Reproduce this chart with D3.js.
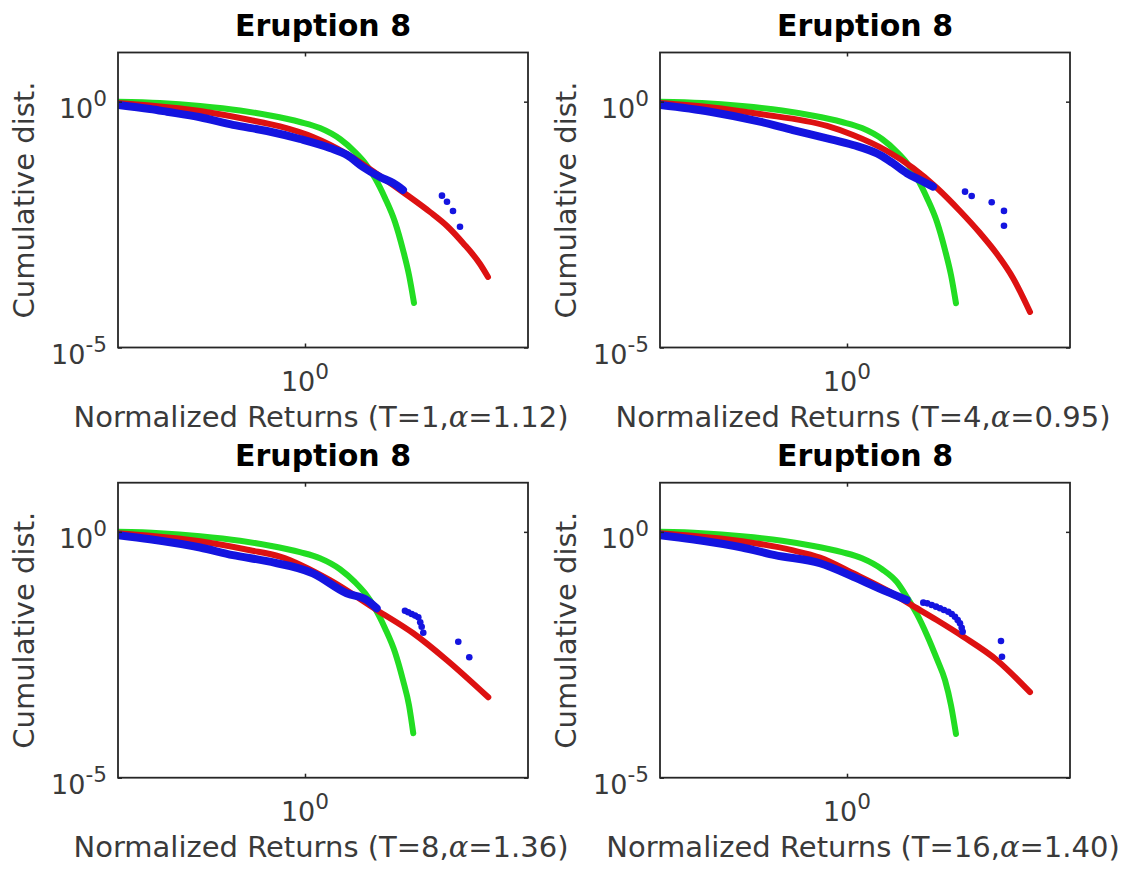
<!DOCTYPE html>
<html>
<head>
<meta charset="utf-8">
<script src="https://cdn.jsdelivr.net/npm/d3@7"></script>
<style>
  html, body { margin: 0; padding: 0; background: #fff; }
  svg { display: block; font-family: "DejaVu Sans", sans-serif; }
</style>
</head>
<body>
<svg id="chart" width="1126" height="870"></svg>
<script>
// Axis ranges and ticks (log-log)
const xDomain = [0.1538, 9.325];
const yDomain = [1e-5, 10];
const xTickValues = [1];
const yTickValues = [1e-5, 1];

// Panel annotations
const panelTitles = ["Eruption 8", "Eruption 8", "Eruption 8", "Eruption 8"];
const horizons = [1, 4, 8, 16];
const alphas = ["1.12", "0.95", "1.36", "1.40"];

// T = 1 : Gaussian fit (green), Levy fit (red), empirical CCDF (blue), sparse tail (blue)
const gauss1 = [[0.154,1.0],[0.234,0.94],[0.35,0.816],[0.522,0.661],[0.705,0.523],[0.951,0.386],[1.162,0.291],[1.42,0.174],[1.65,0.0947],[1.823,0.0566],[2.015,0.028],[2.228,0.011],[2.462,0.00357],[2.668,0.000962],[2.833,0.000298],[2.978,0.0000804]];
const levy1 = [[0.154,0.94],[0.212,0.836],[0.35,0.645],[0.577,0.424],[0.779,0.313],[1.083,0.191],[1.523,0.0862],[2.119,0.0308],[2.777,0.01265],[3.496,0.0057],[4.144,0.00296],[4.864,0.001335],[5.768,0.0005],[6.248,0.000272]];
const empirical1 = [[0.154,0.856],[0.212,0.709],[0.251,0.625],[0.35,0.481],[0.486,0.336],[0.684,0.253],[0.951,0.174],[1.284,0.114],[1.523,0.0822],[1.787,0.0469],[2.119,0.0294],[2.414,0.0222],[2.668,0.016]];
const tail1 = [[3.941,0.01225],[4.144,0.00924],[4.401,0.00597],[4.72,0.00286]];

// T = 4
const gauss2 = [[0.154,1.0],[0.234,0.94],[0.35,0.816],[0.522,0.661],[0.705,0.523],[0.951,0.386],[1.162,0.291],[1.42,0.174],[1.65,0.0947],[1.823,0.0566],[2.015,0.028],[2.228,0.011],[2.462,0.00357],[2.668,0.000962],[2.833,0.000298],[2.978,0.0000793]];
const levy2 = [[0.154,0.94],[0.254,0.768],[0.418,0.561],[0.819,0.32],[1.062,0.21],[1.493,0.0992],[1.936,0.0448],[2.462,0.01755],[3.099,0.00598],[3.787,0.00213],[4.489,0.000798],[5.268,0.00026],[6.248,0.0000528]];
const empirical2 = [[0.154,0.856],[0.254,0.625],[0.418,0.392],[0.582,0.265],[0.819,0.18],[1.062,0.1315],[1.392,0.0822],[1.585,0.0558],[1.823,0.0349],[2.077,0.0255],[2.365,0.0187]];
const tail2 = [[3.26,0.0148],[3.485,0.0121],[4.258,0.009],[4.815,0.006],[4.815,0.003]];

// T = 8
const gauss3 = [[0.154,1.0],[0.234,0.94],[0.35,0.816],[0.522,0.661],[0.705,0.523],[0.951,0.386],[1.162,0.291],[1.42,0.174],[1.65,0.0947],[1.823,0.0566],[2.015,0.028],[2.228,0.011],[2.462,0.00357],[2.668,0.000962],[2.833,0.000298],[2.957,0.00008]];
const levy3 = [[0.154,0.94],[0.212,0.836],[0.35,0.645],[0.577,0.424],[0.779,0.313],[1.284,0.104],[2.05,0.0258],[2.957,0.00865],[4.131,0.00248],[6.266,0.000432]];
const empirical3 = [[0.154,0.856],[0.212,0.709],[0.35,0.481],[0.486,0.336],[0.684,0.253],[1.083,0.1436],[1.518,0.0564],[1.855,0.0411],[2.05,0.0279]];
const tail3 = [[2.721,0.0249],[2.81,0.0232],[2.91,0.0214],[3.01,0.0198],[3.109,0.0183],[3.17,0.0145],[3.216,0.01178],[3.268,0.00889],[4.64,0.00583],[5.18,0.00281]];

// T = 16
const gauss4 = [[0.154,1.0],[0.234,0.94],[0.35,0.816],[0.522,0.661],[0.705,0.523],[0.951,0.386],[1.162,0.291],[1.42,0.174],[1.65,0.0947],[1.823,0.0468],[2.015,0.0212],[2.228,0.00791],[2.462,0.00257],[2.668,0.000962],[2.833,0.000298],[2.978,0.0000775]];
const levy4 = [[0.154,0.94],[0.212,0.836],[0.35,0.645],[0.577,0.424],[0.763,0.30],[1.065,0.1436],[1.488,0.0651],[1.879,0.0338],[2.455,0.01614],[3.203,0.00738],[4.476,0.00248],[6.248,0.000549]];
const empirical4 = [[0.154,0.856],[0.212,0.709],[0.35,0.481],[0.486,0.336],[0.763,0.23],[1.065,0.1225],[1.488,0.0607],[1.818,0.0411]];
const tail4 = [[2.147,0.0363],[2.234,0.0352],[2.335,0.0326],[2.438,0.0301],[2.537,0.0279],[2.641,0.0258],[2.757,0.0238],[2.853,0.0214],[2.948,0.0188],[3.029,0.0161],[3.099,0.01383],[3.153,0.01125],[3.184,0.00933],[4.673,0.00604],[4.72,0.00289]];

const panels = [
  { title: panelTitles[0], T: horizons[0], alpha: alphas[0], gauss: gauss1, levy: levy1, empirical: empirical1, tail: tail1 },
  { title: panelTitles[1], T: horizons[1], alpha: alphas[1], gauss: gauss2, levy: levy2, empirical: empirical2, tail: tail2 },
  { title: panelTitles[2], T: horizons[2], alpha: alphas[2], gauss: gauss3, levy: levy3, empirical: empirical3, tail: tail3 },
  { title: panelTitles[3], T: horizons[3], alpha: alphas[3], gauss: gauss4, levy: levy4, empirical: empirical4, tail: tail4 }
];

// Layout of the 2x2 grid
const colLeft = [118, 660];
const rowTop = [52.5, 482.7];
const plotW = 410, plotH = 295;

const colors = { gauss: "#22dd22", levy: "#dd1111", empirical: "#1414e0" };
const axisColor = "#262626";
const textColor = "#3a3a3a";
const tickFont = 27, labelFont = 29, titleFont = 30;

const svg = d3.select("#chart");

panels.forEach((p, i) => {
  const left = colLeft[i % 2], top = rowTop[Math.floor(i / 2)];
  const g = svg.append("g").attr("transform", `translate(${left},${top})`);

  const x = d3.scaleLog().domain(xDomain).range([0, plotW]);
  const y = d3.scaleLog().domain(yDomain).range([plotH, 0]);

  const clipId = "clip" + i;
  g.append("clipPath").attr("id", clipId)
    .append("rect").attr("width", plotW).attr("height", plotH);

  const plot = g.append("g").attr("clip-path", `url(#${clipId})`);
  const line = d3.line().curve(d3.curveMonotoneX).x(d => x(d[0])).y(d => y(d[1]));

  // Fitted curves and empirical distribution, drawn as dense marker bands
  const band = (data, color, width) => plot.append("path").datum(data).attr("d", line)
    .attr("fill", "none").attr("stroke", color)
    .attr("stroke-width", width).attr("stroke-linecap", "round").attr("stroke-linejoin", "round");
  band(p.gauss, colors.gauss, 6);
  band(p.levy, colors.levy, 6);
  band(p.empirical, colors.empirical, 8);
  plot.selectAll("circle.tail").data(p.tail).join("circle")
    .attr("class", "tail")
    .attr("cx", d => x(d[0])).attr("cy", d => y(d[1])).attr("r", 3.3)
    .attr("fill", colors.empirical);

  // Axes: inward ticks on all four sides
  const axes = [
    d3.axisBottom(x).tickValues(xTickValues).tickSize(-4).tickFormat(""),
    d3.axisTop(x).tickValues(xTickValues).tickSize(-4).tickFormat(""),
    d3.axisLeft(y).tickValues(yTickValues).tickSize(-4).tickFormat(""),
    d3.axisRight(y).tickValues(yTickValues).tickSize(-4).tickFormat("")
  ];
  const offsets = [[0, plotH], [0, 0], [0, 0], [plotW, 0]];
  axes.forEach((ax, k) => {
    const a = g.append("g").attr("transform", `translate(${offsets[k][0]},${offsets[k][1]})`).call(ax);
    a.select(".domain").remove();
    a.selectAll(".tick line").attr("stroke", axisColor).attr("stroke-width", 1.5);
  });

  g.append("rect").attr("width", plotW).attr("height", plotH)
    .attr("fill", "none").attr("stroke", axisColor).attr("stroke-width", 1.8);

  // Tick labels with superscript exponents
  const expText = v => String(Math.round(Math.log10(v)));
  xTickValues.forEach(v => {
    const t = g.append("text").attr("x", x(v)).attr("y", plotH + 43)
      .attr("text-anchor", "middle").attr("font-size", tickFont).attr("fill", textColor);
    t.append("tspan").text("10");
    t.append("tspan").attr("dy", -12).attr("font-size", tickFont * 0.8).text(expText(v));
  });
  yTickValues.forEach(v => {
    const t = g.append("text").attr("x", -11).attr("y", y(v) + 16)
      .attr("text-anchor", "end").attr("font-size", tickFont).attr("fill", textColor);
    t.append("tspan").text("10");
    t.append("tspan").attr("dy", -12).attr("font-size", tickFont * 0.8).text(expText(v));
  });

  // Title
  g.append("text").attr("x", plotW / 2).attr("y", -17)
    .attr("text-anchor", "middle").attr("font-size", titleFont).attr("font-weight", "bold")
    .attr("fill", "#000").text(p.title);

  // Axis labels
  g.append("text")
    .attr("transform", `translate(${-94.5},${plotH / 2}) rotate(-90)`)
    .attr("text-anchor", "middle").attr("dominant-baseline", "central")
    .attr("font-size", labelFont).attr("fill", textColor).text("Cumulative dist.");

  const xl = g.append("text").attr("x", plotW / 2 - 2).attr("y", plotH + 79)
    .attr("text-anchor", "middle").attr("font-size", labelFont).attr("fill", textColor);
  xl.append("tspan").text(`Normalized Returns (T=${p.T},`);
  xl.append("tspan").attr("font-family", "DejaVu Serif").attr("font-style", "italic").text("\u03b1");
  xl.append("tspan").text(`=${p.alpha})`);
});
</script>
</body>
</html>
